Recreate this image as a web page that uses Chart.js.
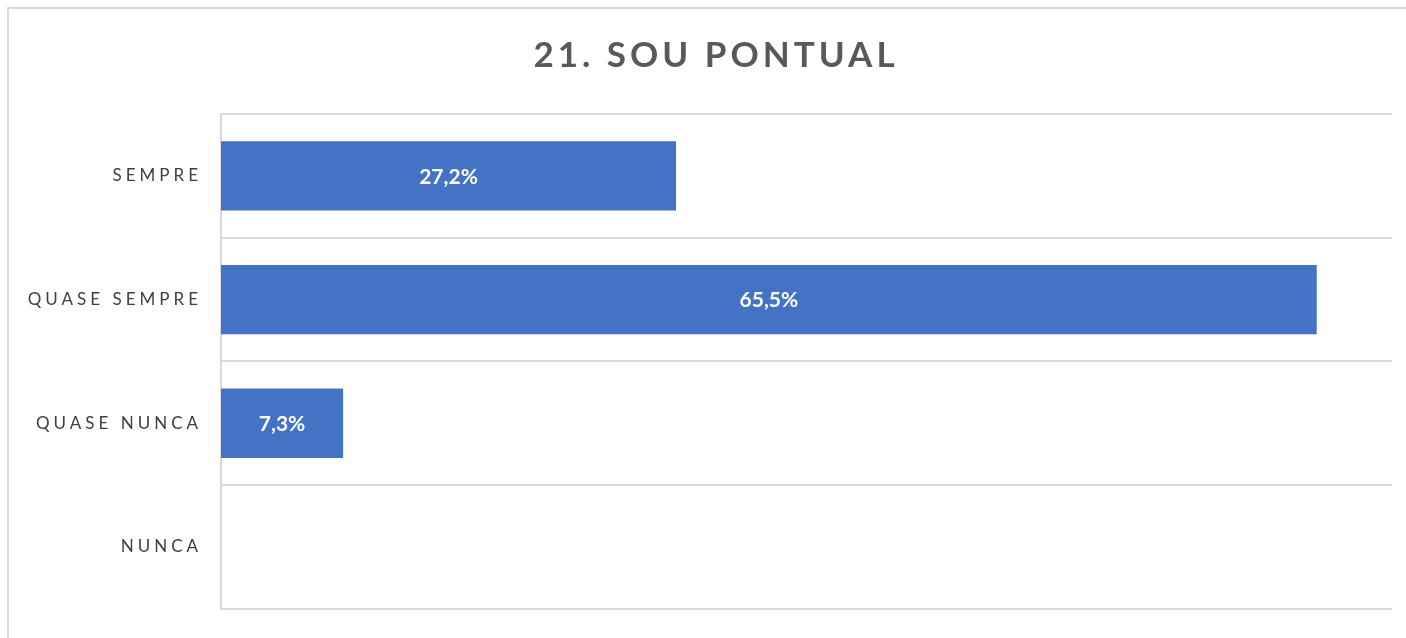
<!DOCTYPE html>
<html>
<head>
<meta charset="utf-8">
<script src="https://cdn.jsdelivr.net/npm/chart.js@4"></script>
<style>
    html, body { margin: 0; padding: 0; background: #ffffff; overflow: hidden; }
    #wrap { position: relative; width: 1406px; height: 638px; }
    #frame { position: absolute; left: 7px; top: 7px; width: 1500px; height: 700px; border: 2px solid #d9d9d9; pointer-events: none; }
</style>
</head>
<body>
<div id="wrap">
    <canvas id="sheetChart" width="1406" height="638"></canvas>
    <div id="frame"></div>
</div>
<script>
const chartTitle = "21. SOU PONTUAL";
const categories = ["SEMPRE", "QUASE SEMPRE", "QUASE NUNCA", "NUNCA"];
const shares = [27.2, 65.5, 7.3, 0];
const axisMax = 70;

function pct(v) {
    return v.toFixed(1).replace(".", ",") + "%";
}

// wide letter spacing for title and category labels, title nudged right like the sheet
const spacingPlugin = {
    id: "spacing",
    afterLayout(chart) {
        if (chart.titleBlock) {
            chart.titleBlock.left += 20;
            chart.titleBlock.right += 20;
        }
    },
    beforeDraw(chart) {
        chart.ctx.letterSpacing = "4px";
    },
    beforeDatasetsDraw(chart) {
        chart.ctx.letterSpacing = "0px";
    }
};

const barLabels = {
    id: "barLabels",
    afterDatasetsDraw(chart) {
        const ctx = chart.ctx;
        const meta = chart.getDatasetMeta(0);
        ctx.save();
        ctx.letterSpacing = "0px";
        ctx.fillStyle = "#ffffff";
        ctx.font = "bold 21px Lato, 'Open Sans', sans-serif";
        ctx.textAlign = "center";
        ctx.textBaseline = "middle";
        meta.data.forEach((bar, i) => {
            const v = shares[i];
            if (!v) return;
            ctx.fillText(pct(v), (bar.base + bar.x) / 2, bar.y + 1);
        });
        ctx.restore();
    }
};

new Chart(document.getElementById("sheetChart"), {
    type: "bar",
    data: {
        labels: categories,
        datasets: [{
            data: shares,
            backgroundColor: "#4472c4",
            borderWidth: 0,
            categoryPercentage: 1,
            barPercentage: 0.56
        }]
    },
    options: {
        indexAxis: "y",
        responsive: false,
        animation: false,
        layout: {
            padding: { left: 0, right: 14, top: 0, bottom: 25 }
        },
        plugins: {
            legend: { display: false },
            tooltip: { enabled: false },
            title: {
                display: true,
                text: chartTitle,
                color: "#595959",
                font: { family: "Lato, 'Open Sans', sans-serif", size: 35, weight: "bold" },
                padding: { top: 35, bottom: 37 }
            }
        },
        scales: {
            x: {
                display: false,
                min: 0,
                max: axisMax
            },
            y: {
                afterFit(scale) {
                    scale.width = 221;
                },
                grid: {
                    color: "#d9d9d9",
                    lineWidth: 2,
                    drawTicks: false,
                    offset: true
                },
                border: { color: "#d9d9d9", width: 2 },
                ticks: {
                    color: "#404040",
                    padding: 19,
                    font: { family: "Lato, 'Open Sans', sans-serif", size: 17 }
                }
            }
        }
    },
    plugins: [spacingPlugin, barLabels]
});
</script>
</body>
</html>
